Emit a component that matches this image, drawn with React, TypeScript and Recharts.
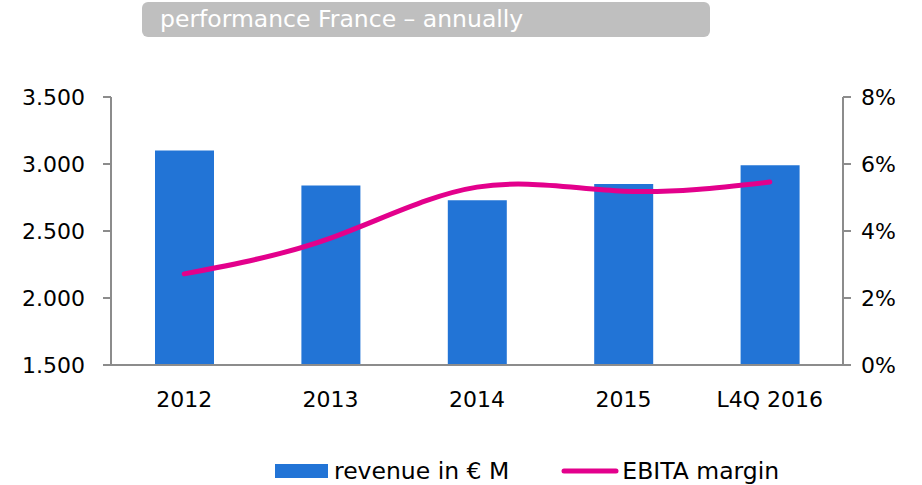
import React from "react";
import { ComposedChart, Bar, Line, XAxis, YAxis, Legend } from "recharts";

const categories = ["2012", "2013", "2014", "2015", "L4Q 2016"];
const revenue = [3100, 2840, 2730, 2850, 2990];
const ebitaMargin = [2.72, 3.79, 5.31, 5.19, 5.46];
const leftTicks = [1500, 2000, 2500, 3000, 3500];
const rightTicks = [0, 2, 4, 6, 8];
const edgeTicks = [0, 1, 2, 3, 4, 5];

const BLUE = "#2274D6";
const MAGENTA = "#E3008C";
const AXIS = "#8C8C8C";
const FONT = "'DejaVu Sans', Verdana, sans-serif";

const data = categories.map((c, i) => ({ name: c, revenue: revenue[i], margin: ebitaMargin[i] }));

const fmtThousands = (v: number) => v.toString().replace(/\B(?=(\d{3})+(?!\d))/g, ".");

// bar entry first, then the line, as in the original
const renderLegend = (props: any) => {
  const items = [...(props.payload || [])].sort((a: any, b: any) => (a.type === "line" ? 1 : 0) - (b.type === "line" ? 1 : 0));
  return (
    <div style={{ display: "flex", alignItems: "center", fontFamily: FONT, fontSize: 23.5, color: "#000", whiteSpace: "nowrap" }}>
      {items.map((it: any, i: number) =>
        it.type === "line" ? (
          <React.Fragment key={i}>
            <svg width={58} height={10} style={{ marginLeft: 52, marginRight: 3 }}>
              <line x1={3} y1={5} x2={55} y2={5} stroke={MAGENTA} strokeWidth={5} strokeLinecap="round" />
            </svg>
            <span>{it.value}</span>
          </React.Fragment>
        ) : (
          <React.Fragment key={i}>
            <span style={{ display: "inline-block", width: 53, height: 14, background: BLUE, marginRight: 6 }} />
            <span>{it.value}</span>
          </React.Fragment>
        )
      )}
    </div>
  );
};

export default function App() {
  const tickStyle = { fontSize: 22, fill: "#000", fontFamily: FONT };
  return (
    <div style={{ position: "relative", width: 922, height: 485, background: "#fff" }}>
      <style>{"body{margin:0}"}</style>
      <div
        style={{
          position: "absolute", left: 142, top: 2, width: 568, height: 35, background: "#BFBFBF",
          borderRadius: 6, color: "#fff", fontFamily: FONT, fontWeight: 400, fontSize: 23.5,
          lineHeight: "35px", paddingLeft: 18, boxSizing: "border-box", zIndex: 2,
        }}
      >
        performance France – annually
      </div>
      <ComposedChart width={922} height={485} data={data} margin={{ top: 97, right: 0, bottom: 0, left: 0 }}>
        <XAxis
          xAxisId="edges" type="number" domain={[0, 5]} ticks={edgeTicks} allowDataOverflow
          height={0} tick={false} axisLine={false} tickLine={{ stroke: AXIS, strokeWidth: 2 }} tickSize={7}
        />
        <XAxis
          dataKey="name" height={90} tick={tickStyle} tickLine={false}
          axisLine={{ stroke: AXIS, strokeWidth: 2 }} tickMargin={20} interval={0}
        />
        <YAxis
          yAxisId="left" width={111} domain={[1500, 3500]} ticks={leftTicks} tick={tickStyle}
          tickFormatter={fmtThousands} axisLine={{ stroke: AXIS, strokeWidth: 2 }}
          tickLine={{ stroke: AXIS, strokeWidth: 2 }} tickSize={8} tickMargin={18}
        />
        <YAxis
          yAxisId="right" orientation="right" width={79} domain={[0, 8]} ticks={rightTicks} tick={tickStyle}
          tickFormatter={(v: number) => `${v}%`} axisLine={{ stroke: AXIS, strokeWidth: 2 }}
          tickLine={{ stroke: AXIS, strokeWidth: 2 }} tickSize={8} tickMargin={10}
        />
        <Legend
          verticalAlign="bottom" height={30} content={renderLegend}
          wrapperStyle={{ left: 275, top: 457, width: "auto" }}
        />
        <Bar yAxisId="left" dataKey="revenue" name="revenue in € M" fill={BLUE} barSize={59} isAnimationActive={false} />
        <Line
          yAxisId="right" dataKey="margin" name="EBITA margin" type="natural" stroke={MAGENTA}
          strokeWidth={5} strokeLinecap="round" dot={false} activeDot={false} isAnimationActive={false}
        />
      </ComposedChart>
    </div>
  );
}
